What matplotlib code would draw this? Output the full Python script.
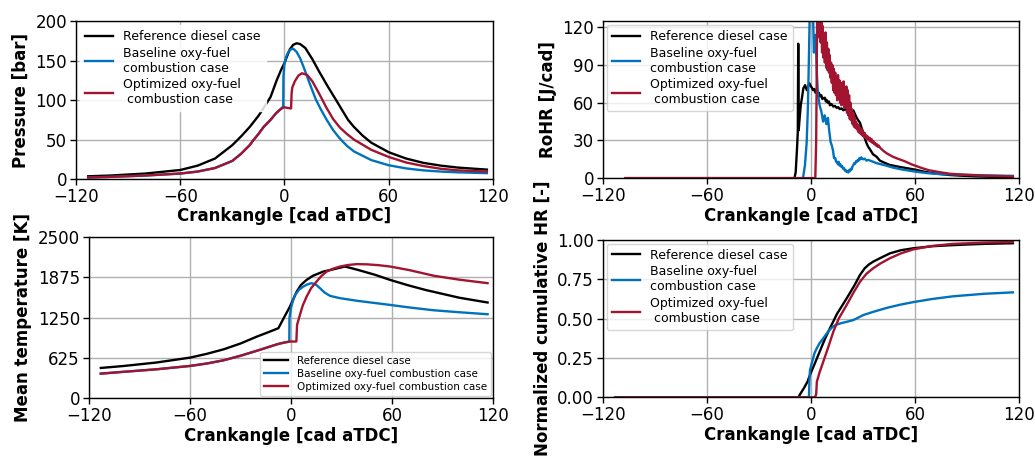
import matplotlib
matplotlib.use("Agg")
import matplotlib.pyplot as plt

# ---------------- data ----------------
labels_top = ["Reference diesel case", "Baseline oxy-fuel\ncombustion case",
              "Optimized oxy-fuel\n combustion case"]
labels_temp = ["Reference diesel case", "Baseline oxy-fuel combustion case",
               "Optimized oxy-fuel combustion case"]
xticks = [-120, -60, 0, 60, 120]

# Pressure [bar]
p_ref_x = [-113, -100, -80, -60, -50, -40, -30, -25, -20, -15, -12, -8, -4.5, -2, 0, 3, 5, 7, 9, 12, 16, 20, 25, 30, 33, 36.6, 40, 45, 50, 60, 70, 80, 90, 100, 116.5]
p_ref_y = [3.5, 4.5, 7, 11.5, 17, 26, 43, 54, 66, 80, 90, 104, 125, 138, 147, 164, 170, 172, 171, 166, 152, 136, 117, 99, 88, 75, 66, 55, 46, 34, 26, 20.5, 17, 14.5, 12]
p_base_x = [-113, -100, -80, -60, -50, -40, -30, -25, -20, -18, -15, -12, -8, -5, -2, -0.7, -0.6, 0, 1, 2, 3, 4, 5.1, 7, 9, 11, 14, 18, 21, 24.3, 28, 32, 36, 40, 50, 60, 70, 80, 90, 100, 116.5]
p_base_y = [2, 2.8, 4.5, 7, 9.5, 14, 23, 32, 43, 49, 57, 66, 75, 83, 89, 92, 130, 146, 155, 160, 163, 164.5, 165, 161, 153, 142, 124, 101, 88, 75, 62, 51, 42, 35, 24, 17.5, 13.5, 11, 9.5, 8.5, 7.5]
p_opt_x = [-113, -100, -80, -60, -50, -40, -30, -25, -20, -18, -15, -12, -8, -5, -2, 0, 2, 3.8, 4.1, 4.5, 6, 8, 10, 13, 16, 20, 24, 28, 32, 36, 40, 50, 60, 70, 80, 90, 100, 116.5]
p_opt_y = [2, 2.8, 4.5, 7, 9.5, 14, 23, 32, 43, 49, 57, 66, 75, 83, 89, 91, 90, 89.5, 108, 116, 124, 131, 134, 132, 124, 108, 91, 76, 65, 57, 50, 37, 28, 21, 16.5, 13, 11, 9.5]

# Rate of heat release [J/cad]
r_ref_x = [-107, -9.5, -8.8, -8, -7.6, -7.35, -7.1, -6.7, -5.9, -5.2, -4.4, -3.4, -2.4, -1.6, -0.9, 0, 0.5, 1.3, 2, 2.6, 3.3, 4, 4.6, 5.2, 6, 6.6, 7.1, 8, 8.6, 9, 9.8, 10.4, 10.9, 11.8, 12.9, 13.8, 14.8, 15.7, 16.6, 17.6, 18.7, 19.5, 20.6, 21.5, 22.5, 23.3, 24.4, 25.4, 26.4, 27.3, 28.3, 29.2, 30, 31, 32, 33, 34, 35.8, 37.9, 39.7, 42, 45.4, 47.3, 51.2, 55, 60, 65, 70, 74.4, 80, 86, 95, 105, 116.5]
r_ref_y = [0, 0, 5, 25, 37, 107, 38, 45, 58, 64, 71.5, 74, 70, 73, 75.5, 73, 72, 70, 71, 68, 69, 67, 68, 65, 66, 63, 63.6, 64, 61, 62.3, 60, 61, 58, 59, 57, 57.5, 56, 56.5, 55, 55.5, 54, 55, 54, 55.5, 55, 53, 54, 51, 48, 46, 44, 40, 37, 32, 28, 25, 23, 19, 17, 14, 12.5, 10.5, 10, 8.9, 8, 6.8, 5.2, 4, 3.3, 2.5, 2, 1.4, 1, 0.8]
r_base_x = [-107, -5, -4.5, -3.5, -2.5, -1.8, -1.2, -0.6, 0, 0.6, 1.2, 1.7, 2.1, 2.6, 3, 3.5, 4.1, 5, 6, 7, 7.9, 8.9, 9.8, 10.5, 11.3, 12, 12.7, 13.3, 14, 14.5, 15, 15.5, 16, 16.5, 17, 17.5, 18, 18.5, 19, 19.5, 20, 20.5, 21, 21.5, 22, 22.5, 23, 23.5, 24, 24.5, 25, 25.5, 26, 26.5, 27, 27.5, 28, 28.5, 29, 30, 31, 32, 33, 35, 37.9, 42, 47.3, 52, 60, 67, 74.4, 86, 100, 116.5]
r_base_y = [0, 0, 1, 10, 28, 55, 95, 140, 170, 160, 130, 100, 105, 114, 100, 80, 66, 58, 53, 45, 50, 43, 48, 38, 29, 26, 22, 16, 16, 13, 13, 11, 13, 10, 11, 9, 9.5, 7.5, 8, 6, 6.5, 5, 5.5, 4.5, 6.5, 5.5, 7.5, 7, 9.5, 10.5, 12, 11.5, 13.5, 13, 14.5, 14, 16, 15, 16.5, 15, 15.5, 14, 14.5, 13.5, 11.9, 10.5, 8.4, 7, 5.2, 4, 3.2, 2.8, 2.2, 1.8]
r_opt_x = [-107, 2.5, 3.0, 3.3, 3.6, 4.0, 4.4, 4.8, 5.2, 5.6, 6.0, 6.4, 6.8, 7.2, 7.6, 8.0, 8.4, 8.8, 9.2, 9.6,
           10.0, 10.4, 10.8, 11.2, 11.6, 12.0, 12.4, 12.8, 13.2, 13.6, 14.0, 14.4, 14.8, 15.2, 15.6, 16.0, 16.4, 16.8, 17.2, 17.6,
           18.0, 18.4, 18.8, 19.2, 19.6, 20.0, 20.4, 20.8, 21.2, 21.6, 22.0, 22.4, 22.8, 23.2, 23.6, 24.0, 24.4, 24.8, 25.2, 25.6,
           26.0, 26.4, 26.8, 27.2, 27.6, 28.0, 28.4, 28.8, 29.2, 29.6, 30.0, 30.5, 31.0, 31.5, 32.0, 32.5, 33.0, 33.5, 34.0, 34.5,
           35.0, 35.5, 36.0, 36.5, 37.0, 37.5, 38.0, 38.5, 39.0, 40, 42, 44, 47.3, 50, 54, 58, 60, 64, 68, 74.4, 80, 90, 100, 110, 116.5]
r_opt_y = [0, 0, 30, 80, 140, 128, 140, 112, 130, 108, 126, 100, 121, 96, 114, 92, 116, 88, 108, 86,
           103, 84, 98, 80, 92, 76, 90, 70, 87, 68, 84, 66, 80, 62, 82, 64, 78, 60, 76, 58,
           74, 60, 77, 56, 72, 58, 73, 52, 70, 50, 66, 47, 60, 46, 55, 43, 52, 41, 48, 40,
           45, 39, 43, 37, 42, 36, 40, 35, 39, 34, 37, 33, 36, 32, 34, 31, 33, 30, 32, 29,
           31, 28, 29.5, 27, 28, 26, 27, 25, 26, 24, 21.5, 19.5, 17, 15.5, 13.5, 11, 10, 8, 6.3, 4.7, 3.5, 2.6, 2, 1.6, 1.3]

# Mean temperature [K]
t_ref_x = [-113, -100, -80, -60, -50, -40, -30, -20, -14, -7.5, -4, -0.6, 3.4, 6, 9.3, 13, 19.2, 25, 32.1, 40, 50, 58.8, 70, 80, 90, 100, 116.8]
t_ref_y = [471, 500, 555, 631, 690, 760, 850, 960, 1020, 1087, 1260, 1423, 1655, 1760, 1837, 1900, 1966, 2000, 2044, 1990, 1915, 1837, 1750, 1680, 1620, 1560, 1486]
t_base_x = [-113, -100, -80, -60, -50, -40, -30, -20, -14, -8, -4, -1, -0.9, 0, 1, 2.4, 5, 7.3, 10, 12.3, 15, 17.2, 20, 23.2, 29.1, 40, 58.8, 70, 85, 100, 116.8]
t_base_y = [383, 410, 450, 502, 540, 590, 660, 740, 790, 840, 865, 879, 1250, 1400, 1500, 1604, 1690, 1733, 1770, 1786, 1760, 1708, 1640, 1589, 1553, 1510, 1449, 1410, 1365, 1335, 1304]
t_opt_x = [-113, -100, -80, -60, -50, -40, -30, -20, -14, -8, -4, -1, 0, 2, 3.2, 3.6, 5.3, 7, 9.3, 12, 15.2, 18, 21.2, 25, 29.1, 34, 39, 45, 52, 58.8, 70, 85, 100, 116.8]
t_opt_y = [383, 410, 450, 502, 540, 590, 660, 740, 790, 840, 865, 879, 882, 880, 882, 1138, 1294, 1440, 1578, 1710, 1811, 1895, 1966, 2010, 2044, 2068, 2081, 2078, 2065, 2044, 1990, 1900, 1840, 1786]

# Normalized cumulative heat release [-]
c_ref_x = [-113, -7.3, -6, -4, -2, -0.6, 2, 5, 8, 10.9, 15, 20.6, 25, 28.3, 31, 33.5, 35.9, 40, 45.6, 52, 59, 70, 80, 90, 100, 116.5]
c_ref_y = [0, 0, 0.025, 0.06, 0.1, 0.142, 0.21, 0.29, 0.37, 0.438, 0.53, 0.629, 0.71, 0.778, 0.82, 0.845, 0.862, 0.885, 0.915, 0.935, 0.947, 0.96, 0.966, 0.971, 0.975, 0.979]
c_base_x = [-113, -1.2, -0.9, -0.6, 0.5, 2, 3.3, 5, 7.1, 9, 10.9, 12.5, 14.7, 17, 20.6, 24.4, 27, 30.2, 35, 39.8, 45, 52, 59, 70, 82, 100, 116.5]
c_base_y = [0, 0, 0.1, 0.17, 0.22, 0.28, 0.311, 0.345, 0.375, 0.405, 0.43, 0.448, 0.462, 0.47, 0.48, 0.491, 0.505, 0.523, 0.54, 0.556, 0.572, 0.59, 0.605, 0.625, 0.642, 0.658, 0.667]
c_opt_x = [-113, 2.3, 3.0, 3.4, 5, 7.1, 10, 12.9, 16, 20.6, 24.5, 28.3, 32, 35.9, 40, 45.6, 52, 59, 70, 82, 100, 116.5]
c_opt_y = [0, 0, 0.02, 0.1, 0.16, 0.227, 0.32, 0.417, 0.5, 0.587, 0.665, 0.735, 0.785, 0.82, 0.85, 0.884, 0.915, 0.94, 0.962, 0.975, 0.983, 0.987]

# ---------------- styling ----------------
C_REF = "#000000"
C_BASE = "#0072BD"
C_OPT = "#A2142F"
LW = 1.7

plt.rcParams["font.family"] = ["DejaVu Sans"]
fig = plt.figure(figsize=(10.35, 4.70), dpi=100)

ax1 = fig.add_axes([0.0734, 0.619, 0.4029, 0.336])
ax2 = fig.add_axes([0.5826, 0.621, 0.4019, 0.334])
ax3 = fig.add_axes([0.0860, 0.1525, 0.3903, 0.343])
ax4 = fig.add_axes([0.5826, 0.1545, 0.4019, 0.335])


def style(ax, ylabel):
    ax.set_xlim(-120, 120)
    ax.set_xticks(xticks)
    ax.grid(True, color="#b0b0b0", linewidth=1.0)
    ax.set_axisbelow(True)
    ax.tick_params(labelsize=12, length=4, width=1, pad=2.5)
    ax.set_xlabel("Crankangle [cad aTDC]", fontsize=12, fontweight="bold", labelpad=1)
    ax.set_ylabel(ylabel, fontsize=12, fontweight="bold", labelpad=4)
    for s in ax.spines.values():
        s.set_linewidth(1.0)


# Pressure
ax1.plot(p_ref_x, p_ref_y, color=C_REF, lw=LW, label=labels_top[0])
ax1.plot(p_base_x, p_base_y, color=C_BASE, lw=LW, label=labels_top[1])
ax1.plot(p_opt_x, p_opt_y, color=C_OPT, lw=LW, label=labels_top[2])
ax1.set_ylim(0, 200)
ax1.set_yticks([0, 50, 100, 150, 200])
style(ax1, "Pressure [bar]")
ax1.legend(loc="upper left", fontsize=9, frameon=True, edgecolor="white",
           framealpha=0.85, handlelength=2.3, labelspacing=0.3, borderaxespad=0.3)

# RoHR
ax2.plot(r_ref_x, r_ref_y, color=C_REF, lw=LW, label=labels_top[0])
ax2.plot(r_base_x, r_base_y, color=C_BASE, lw=LW, label=labels_top[1])
ax2.plot(r_opt_x, r_opt_y, color=C_OPT, lw=LW, label=labels_top[2])
ax2.set_ylim(0, 125)
ax2.set_yticks([0, 30, 60, 90, 120])
style(ax2, "RoHR [J/cad]")
ax2.legend(loc="upper left", fontsize=9, handlelength=2.3, labelspacing=0.3, borderaxespad=0.3)

# Temperature
ax3.plot(t_ref_x, t_ref_y, color=C_REF, lw=LW, label=labels_temp[0])
ax3.plot(t_base_x, t_base_y, color=C_BASE, lw=LW, label=labels_temp[1])
ax3.plot(t_opt_x, t_opt_y, color=C_OPT, lw=LW, label=labels_temp[2])
ax3.set_ylim(0, 2500)
ax3.set_yticks([0, 625, 1250, 1875, 2500])
style(ax3, "Mean temperature [K]")
ax3.legend(loc="lower right", fontsize=7.5, handlelength=2.3, labelspacing=0.3, borderaxespad=0.2)

# Cumulative HR
ax4.plot(c_ref_x, c_ref_y, color=C_REF, lw=LW, label=labels_top[0])
ax4.plot(c_base_x, c_base_y, color=C_BASE, lw=LW, label=labels_top[1])
ax4.plot(c_opt_x, c_opt_y, color=C_OPT, lw=LW, label=labels_top[2])
ax4.set_ylim(0, 1.0)
ax4.set_yticks([0, 0.25, 0.5, 0.75, 1.0])
ax4.set_yticklabels(["0.00", "0.25", "0.50", "0.75", "1.00"])
style(ax4, "Normalized cumulative HR [-]")
ax4.legend(loc="upper left", fontsize=9, handlelength=2.3, labelspacing=0.3, borderaxespad=0.3)

fig.savefig("out.png", dpi=100)
